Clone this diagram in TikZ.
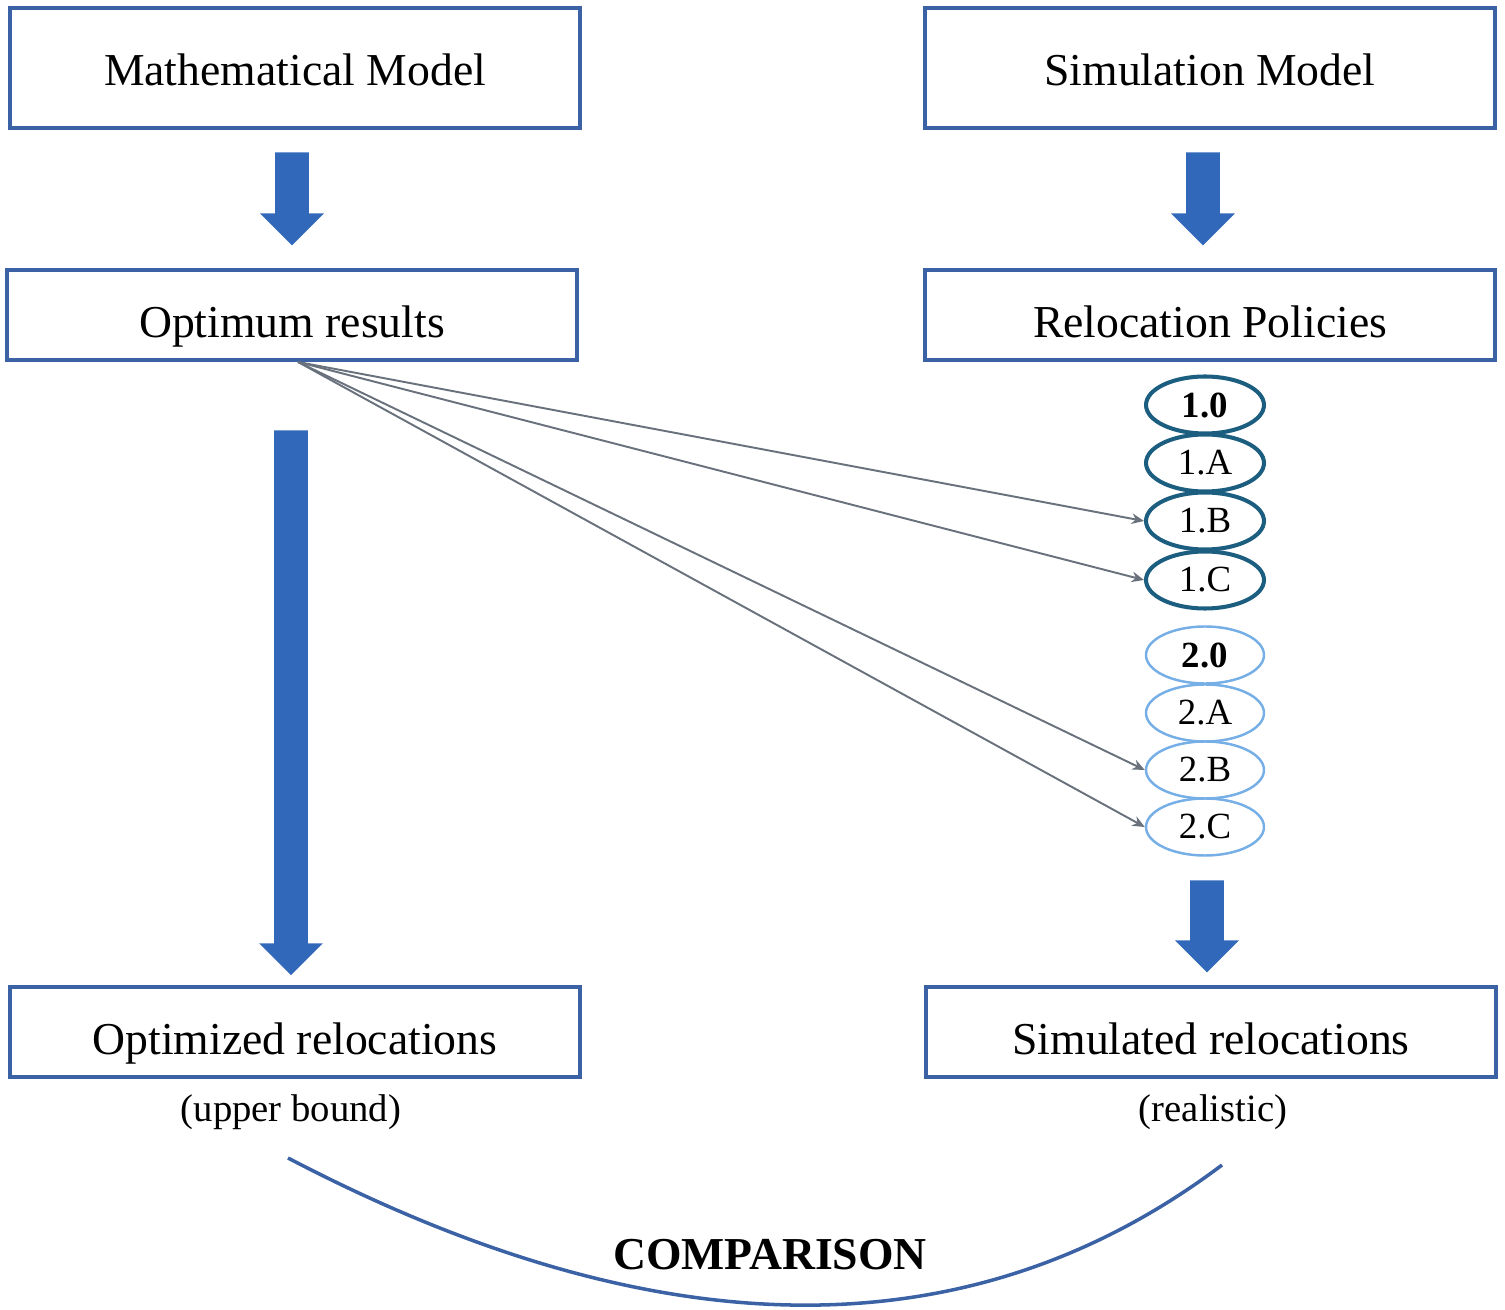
\documentclass[tikz,border=0pt]{standalone}
\usepackage{fontspec}
\setmainfont{Liberation Serif}
\usetikzlibrary{arrows.meta,shapes.geometric,shapes.arrows}
\definecolor{boxBlue}{RGB}{58,98,165}
\definecolor{fillBlue}{RGB}{50,104,186}
\definecolor{polDark}{RGB}{28,94,128}
\definecolor{polLight}{RGB}{118,174,230}
\definecolor{linkGray}{RGB}{105,113,125}
\tikzset{
    >=Stealth,
    stage/.style={rectangle,draw=boxBlue,line width=2pt,minimum width=11.4cm,minimum height=1.8cm,
                  text height=26pt,text depth=0pt,font=\fontsize{26}{30}\selectfont},
    tallstage/.style={stage,minimum height=2.4cm,text height=20pt},
    note/.style={font=\fontsize{22}{26}\selectfont},
    pol/.style={ellipse,draw=#1,minimum width=2.36cm,minimum height=1.14cm,inner sep=0pt,
                font=\fontsize{21}{24}\selectfont},
    polA/.style={pol=polDark,line width=2.3pt},
    polB/.style={pol=polLight,line width=1.4pt},
    flow/.style={single arrow,draw=none,fill=fillBlue,rotate=-90,anchor=tail,inner sep=0.33cm,
                 single arrow head extend=0.3cm,single arrow head indent=0pt,minimum height=#1},
    link/.style={-{Stealth[length=7pt,width=6pt]},draw=linkGray,line width=1.1pt}
}

\begin{document}
\begin{tikzpicture}[x=0.02cm,y=-0.02cm]
  \useasboundingbox (0,0) rectangle (1505,1310);

  % the two models
  \node[tallstage] (math) at (295, 68)  {Mathematical Model};
  \node[tallstage] (sim)  at (1210, 68) {Simulation Model};

  \node[stage] (opt) at (292, 315)  {Optimum results};
  \node[stage] (rel) at (1210, 315) {Relocation Policies};

  \node[stage] (optrel) at (295, 1032)  {Optimized relocations};
  \node[stage] (simrel) at (1211, 1032) {Simulated relocations};
  \node[note] (ub)  at (291, 1112)  {(upper bound)};
  \node[note] (rea) at (1213, 1112) {(realistic)};

  % block arrows
  \node[flow=1.86cm] (a1) at (292, 152)  {};
  \node[flow=1.86cm] (a2) at (1203, 152) {};
  \node[flow=10.9cm] (a3) at (291, 430)  {};
  \node[flow=1.84cm] (a4) at (1207, 880) {};

  % policies
  \coordinate (src) at (298, 362);
  \node[polA] (p10) at (1205, 405) {\textbf{1.0}};
  \node[polA] (p1A) at (1205, 463) {1.A};
  \node[polA] (p1B) at (1205, 521) {1.B};
  \node[polA] (p1C) at (1205, 580) {1.C};
  \node[polB] (p20) at (1205, 655) {\textbf{2.0}};
  \node[polB] (p2A) at (1205, 713) {2.A};
  \node[polB] (p2B) at (1205, 770) {2.B};
  \node[polB] (p2C) at (1205, 827) {2.C};

  \path (src) edge[link] (p1B.west)
              edge[link] (p1C.west)
              edge[link] (p2B.west)
              edge[link] (p2C.west);

  % comparison
  \coordinate (cl) at (288, 1158);
  \coordinate (cr) at (1222, 1165);
  \draw[boxBlue,line width=2pt] (cl) .. controls (659, 1352) and (971, 1354) .. (cr);
  \node[font=\fontsize{26}{30}\selectfont\bfseries] (cmp) at (770, 1255) {COMPARISON};
\end{tikzpicture}
\end{document}
